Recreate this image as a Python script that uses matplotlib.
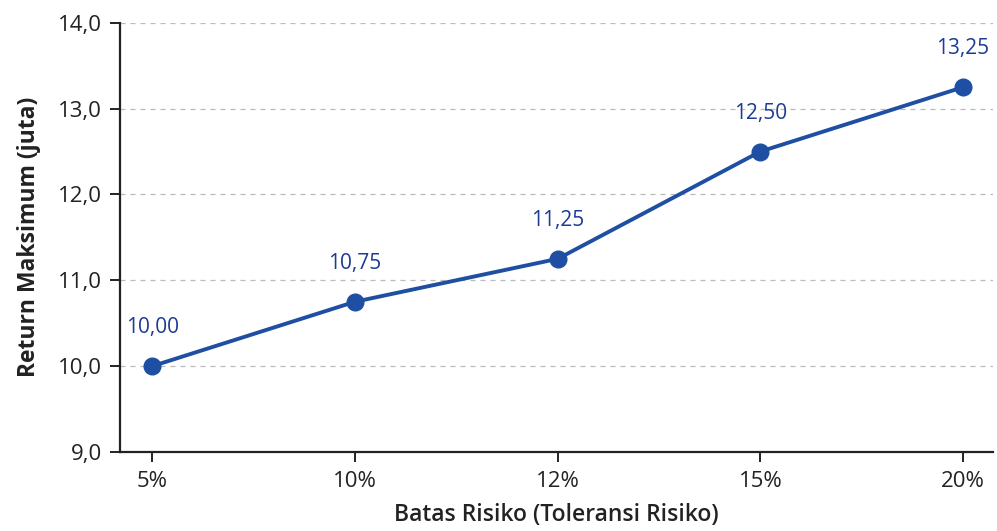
import matplotlib.pyplot as plt

plt.rcParams["font.family"] = ["Open Sans", "DejaVu Sans"]

risk_limits = ["5%", "10%", "12%", "15%", "20%"]
max_return = [10.00, 10.75, 11.25, 12.50, 13.25]
y_ticks = [9.0, 10.0, 11.0, 12.0, 13.0, 14.0]

line_color = "#1f4fa3"
label_color = "#1c3c93"

fig = plt.figure(figsize=(9.97, 5.31), dpi=100)
ax = fig.add_axes([0.1204, 0.149, 0.876, 0.808])

x = range(len(risk_limits))
ax.plot(x, max_return, color=line_color, linewidth=2.8, marker="o",
        markersize=12, zorder=3)

# value labels above each point
for xi, val in zip(x, max_return):
    ax.annotate(f"{val:.2f}".replace(".", ","), (xi, val),
                textcoords="offset points", xytext=(0, 20),
                ha="center", va="bottom", fontsize=15, color=label_color)

ax.set_xlim(-0.16, 4.15)
ax.set_ylim(9.0, 14.0)
ax.set_xticks(list(x))
ax.set_xticklabels(risk_limits)
ax.set_yticks(y_ticks)
ax.set_yticklabels([f"{t:.1f}".replace(".", ",") for t in y_ticks])
ax.tick_params(labelsize=16, width=1.4, length=7, colors="#222222")
ax.tick_params(axis="x", pad=7)
ax.tick_params(axis="y", pad=6)

ax.yaxis.grid(True, linestyle=(0, (4, 4)), color="#bbbbbb", linewidth=0.9)
ax.set_axisbelow(True)
for side in ("top", "right"):
    ax.spines[side].set_visible(False)
for side in ("left", "bottom"):
    ax.spines[side].set_linewidth(1.6)
    ax.spines[side].set_color("#222222")

ax.set_xlabel("Batas Risiko (Toleransi Risiko)", fontsize=16.5, labelpad=8,
              fontweight="semibold", color="#222222")
ax.set_ylabel("Return Maksimum (juta)", fontsize=16.5, fontweight="bold",
              labelpad=12, color="#222222")

fig.savefig("out.png", dpi=100)
